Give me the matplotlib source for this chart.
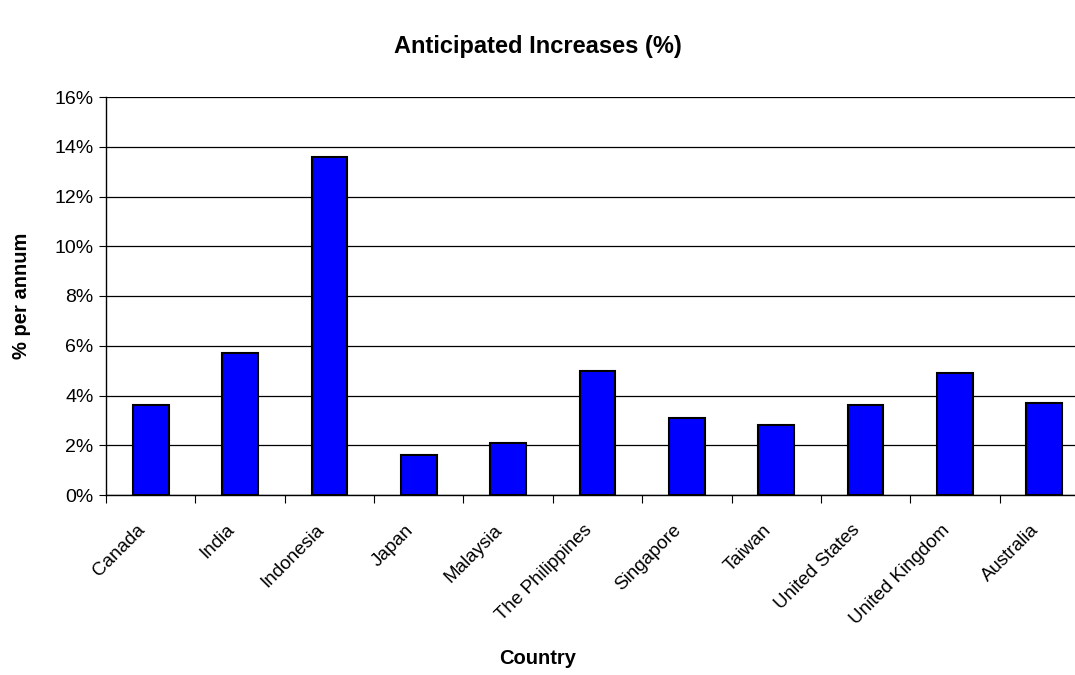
import matplotlib.pyplot as plt
from matplotlib.ticker import FuncFormatter, FixedLocator
from matplotlib.transforms import ScaledTranslation
from matplotlib import font_manager

countries = ['Canada', 'India', 'Indonesia', 'Japan', 'Malaysia', 'The Philippines',
             'Singapore', 'Taiwan', 'United States', 'United Kingdom', 'Australia']
increases = [3.6, 5.7, 13.6, 1.6, 2.1, 5.0, 3.1, 2.8, 3.6, 4.9, 3.7]

names = {f.name for f in font_manager.fontManager.ttflist}
fam = 'Liberation Sans Narrow' if 'Liberation Sans Narrow' in names else 'Liberation Sans'
plt.rcParams['font.family'] = [fam, 'DejaVu Sans']

fig = plt.figure(figsize=(10.75, 6.75), dpi=100)
# plot area runs past the right edge of the image, as in the original
ax = fig.add_axes([106 / 1075, 1 - 495 / 675, 983 / 1075, 398 / 675])

x = range(len(countries))
ax.bar(x, increases, width=0.4, color='#0000FF', edgecolor='black', linewidth=1.5, zorder=3)

ax.set_xlim(-0.5, len(countries) - 0.5)
ax.set_ylim(0, 16)
ax.set_yticks(range(0, 17, 2))
ax.yaxis.set_major_formatter(FuncFormatter(lambda v, p: f'{v:.0f}%'))
ax.yaxis.grid(True, color='black', linewidth=0.9, zorder=0)

ax.set_xticks(list(x))
ax.set_xticklabels(countries, rotation=45, ha='right', rotation_mode='anchor', fontsize=13.5)
ax.tick_params(axis='x', length=0, pad=19)
shift = ScaledTranslation(-14 / 100, 0, fig.dpi_scale_trans)
for lab in ax.get_xticklabels():
    lab.set_transform(lab.get_transform() + shift)
ax.xaxis.set_minor_locator(FixedLocator([i - 0.5 for i in range(len(countries) + 1)]))
ax.tick_params(axis='x', which='minor', length=6, width=0.8, color='black')
ax.tick_params(axis='y', labelsize=14, length=5, width=0.8, pad=4)

for s in ['top', 'right']:
    ax.spines[s].set_visible(False)
ax.spines['left'].set_linewidth(1)
ax.spines['bottom'].set_linewidth(1)

fig.text(0.5, 1 - 47 / 675, 'Anticipated Increases (%)', ha='center', va='center',
         fontsize=17, fontweight='bold')
fig.text(0.5, 1 - 659 / 675, 'Country', ha='center', va='center',
         fontsize=14.5, fontweight='bold')
fig.text(22 / 1075, 1 - 296 / 675, '% per annum', ha='center', va='center',
         rotation=90, fontsize=14.5, fontweight='bold')

fig.savefig('out.png', dpi=100)
